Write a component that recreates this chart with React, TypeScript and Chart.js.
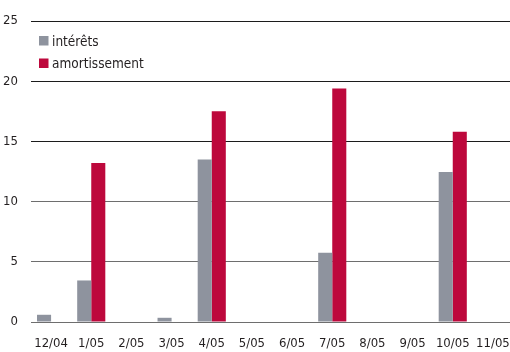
import React, { useEffect, useRef } from "react";
import { Chart, registerables } from "chart.js";

Chart.register(...registerables);

const months = ["12/04", "1/05", "2/05", "3/05", "4/05", "5/05", "6/05", "7/05", "8/05", "9/05", "10/05", "11/05"];
const interets = [0.6, 3.45, 0, 0.35, 13.5, 0, 0, 5.75, 0, 0, 12.45, 0];
const amortissement = [0, 13.2, 0, 0, 17.5, 0, 0, 19.4, 0, 0, 15.8, 0];
const seriesLabels = ["intérêts", "amortissement"];
const seriesColors = ["#8e939e", "#bd083c"];

const FONT = "'DejaVu Sans Condensed', 'Liberation Sans', sans-serif";
const TEXT = "#231f20";

// Legend drawn inside the top-left corner of the plot area
const insideLegend = {
  id: "insideLegend",
  afterDraw(chart: Chart) {
    const { ctx, chartArea } = chart;
    ctx.save();
    ctx.font = `13.5px ${FONT}`;
    ctx.textBaseline = "alphabetic";
    ctx.textAlign = "left";
    chart.data.datasets.forEach((ds, i) => {
      const x = chartArea.left + 8;
      const y = chartArea.top + 15 + i * 22.5;
      ctx.fillStyle = ds.backgroundColor as string;
      ctx.fillRect(x, y, 9.5, 9.5);
      ctx.fillStyle = TEXT;
      ctx.fillText(ds.label as string, x + 13, y + 9.8);
    });
    ctx.restore();
  },
};

export default function App() {
  const ref = useRef<HTMLCanvasElement>(null);

  useEffect(() => {
    document.body.style.margin = "0";
    const canvas = ref.current;
    if (!canvas) return;
    const chart = new Chart(canvas, {
      type: "bar",
      data: {
        labels: months,
        datasets: [
          { label: seriesLabels[0], data: interets, backgroundColor: seriesColors[0], borderWidth: 0 },
          { label: seriesLabels[1], data: amortissement, backgroundColor: seriesColors[1], borderWidth: 0 },
        ],
      },
      options: {
        responsive: false,
        animation: false,
        layout: { padding: { top: 21, right: 0, bottom: 0, left: 0 } },
        datasets: { bar: { categoryPercentage: 0.7, barPercentage: 1.0 } },
        plugins: { legend: { display: false }, tooltip: { enabled: false } },
        scales: {
          x: {
            grid: { display: false, drawTicks: true, tickLength: 14 },
            border: { display: false },
            ticks: { color: TEXT, font: { family: FONT, size: 13 }, padding: 0, maxRotation: 0, autoSkip: false },
            afterFit(scale: any) {
              scale.height = 30;
            },
          },
          y: {
            min: 0,
            max: 25,
            border: { display: false },
            grid: {
              drawTicks: false,
              lineWidth: 1,
              color: (c: any) => (c.tick && c.tick.value >= 15 ? "#1c1c1c" : "#6e6e6e"),
            },
            ticks: { stepSize: 5, color: TEXT, font: { family: FONT, size: 13 }, padding: 13 },
            afterFit(scale: any) {
              scale.width = 31;
            },
          },
        },
      },
      plugins: [insideLegend],
    });
    return () => chart.destroy();
  }, []);

  return (
    <div style={{ width: 510, height: 352, overflow: "hidden", background: "#fff" }}>
      <canvas ref={ref} width={513} height={352} style={{ display: "block" }} />
    </div>
  );
}
